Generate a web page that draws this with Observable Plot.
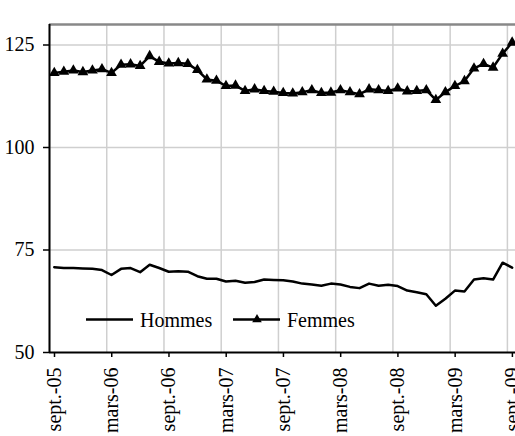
<!DOCTYPE html>
<html>
<head>
<meta charset="utf-8">
<script src="https://cdn.jsdelivr.net/npm/d3@7"></script>
<script src="https://cdn.jsdelivr.net/npm/@observablehq/plot@0.6"></script>
<style>
  html, body { margin: 0; padding: 0; background: #fff; }
  #chart { position: relative; width: 515px; height: 436px; }
  #chart svg, #chart svg text { font-family: "Liberation Serif", "Times New Roman", serif !important; }
</style>
</head>
<body>
<div id="chart"></div>
<script>
// Monthly index, sept.-05 (0) to sept.-09 (48)
const tickLabels = ["sept.-05", "mars-06", "sept.-06", "mars-07", "sept.-07", "mars-08", "sept.-08", "mars-09", "sept.-09"];
const tickPositions = [0, 6, 12, 18, 24, 30, 36, 42, 48];
const seriesNames = ["Hommes", "Femmes"];

const hommes = [
  70.8, 70.6, 70.6, 70.5, 70.4, 70.1, 68.9, 70.4, 70.6, 69.6, 71.4, 70.6,
  69.7, 69.8, 69.7, 68.6, 68.0, 68.0, 67.3, 67.5, 67.0, 67.2, 67.8, 67.7,
  67.6, 67.3, 66.8, 66.6, 66.3, 66.8, 66.6, 66.0, 65.7, 66.8, 66.3, 66.5,
  66.2, 65.1, 64.7, 64.2, 61.4, 63.1, 65.1, 64.9, 67.8, 68.1, 67.8, 71.9,
  70.7
];
const femmes = [
  118.2, 118.5, 118.8, 118.4, 118.8, 119.1, 118.2, 120.2, 120.3, 119.9, 122.3, 120.9,
  120.5, 120.6, 120.4, 118.9, 116.6, 116.3, 115.0, 115.1, 113.8, 114.2, 113.8, 113.6,
  113.3, 113.2, 113.5, 114.0, 113.3, 113.4, 114.0, 113.5, 113.0, 114.2, 114.0, 113.8,
  114.4, 113.7, 113.8, 114.0, 111.6, 113.5, 115.0, 116.2, 119.3, 120.4, 119.5, 122.9,
  125.6
];

const hData = hommes.map((v, i) => ({i: i + 0.5, v}));
const fData = femmes.map((v, i) => ({i: i + 0.5, v}));

const font = "Liberation Serif";

const plot = Plot.plot({
  width: 515,
  height: 436,
  marginLeft: 49,
  marginRight: 0,
  marginTop: 24,
  marginBottom: 84,
  style: {fontFamily: font, fontSize: "20px", color: "#000", background: "#fff"},
  x: {domain: [0, 48.85], label: null},
  y: {domain: [50, 130], label: null},
  marks: [
    Plot.gridX(tickPositions, {stroke: "#cfcfcf", strokeOpacity: 1, strokeWidth: 1.5}),
    Plot.gridY([75, 100, 125], {stroke: "#cfcfcf", strokeOpacity: 1, strokeWidth: 1.5}),
    Plot.ruleY([130], {stroke: "#888", strokeWidth: 2.5}),
    Plot.line(hData, {x: "i", y: "v", stroke: "#000", strokeWidth: 2.5}),
    Plot.line(fData, {x: "i", y: "v", stroke: "#000", strokeWidth: 2.5}),
    Plot.dot(fData, {x: "i", y: "v", symbol: "triangle", fill: "#000", r: 4}),
    Plot.axisY({ticks: [50, 75, 100, 125], tickSize: 6, tickPadding: 9, stroke: "#000", strokeWidth: 1.5, fontSize: 20}),
    Plot.axisX({ticks: tickPositions, tickFormat: d => tickLabels[tickPositions.indexOf(d)], tickRotate: -90, tickSize: 5, tickPadding: 10, dx: 5, stroke: "#000", strokeWidth: 1.5, fontSize: 20}),
    Plot.ruleX([0], {stroke: "#000", strokeWidth: 2}),
    Plot.ruleY([50], {stroke: "#000", strokeWidth: 2})
  ]
});

document.getElementById("chart").appendChild(plot);

// Legend inside the plot area
const svg = d3.select(plot);
const lg = svg.append("g").attr("font-size", 20).attr("text-anchor", "start");
const items = [
  {name: seriesNames[0], x0: 86, marker: false},
  {name: seriesNames[1], x0: 233, marker: true}
];
items.forEach(it => {
  lg.append("line").attr("x1", it.x0).attr("x2", it.x0 + 47).attr("y1", 319.5).attr("y2", 319.5)
    .attr("stroke", "#000").attr("stroke-width", 2.5);
  if (it.marker) {
    lg.append("path").attr("d", d3.symbol(d3.symbolTriangle, 40)()).attr("transform", `translate(${it.x0 + 24},319.5)`).attr("fill", "#000");
  }
  lg.append("text").attr("x", it.x0 + 54).attr("y", 326.5).attr("fill", "#000").attr("text-anchor", "start").text(it.name);
});
</script>
</body>
</html>
